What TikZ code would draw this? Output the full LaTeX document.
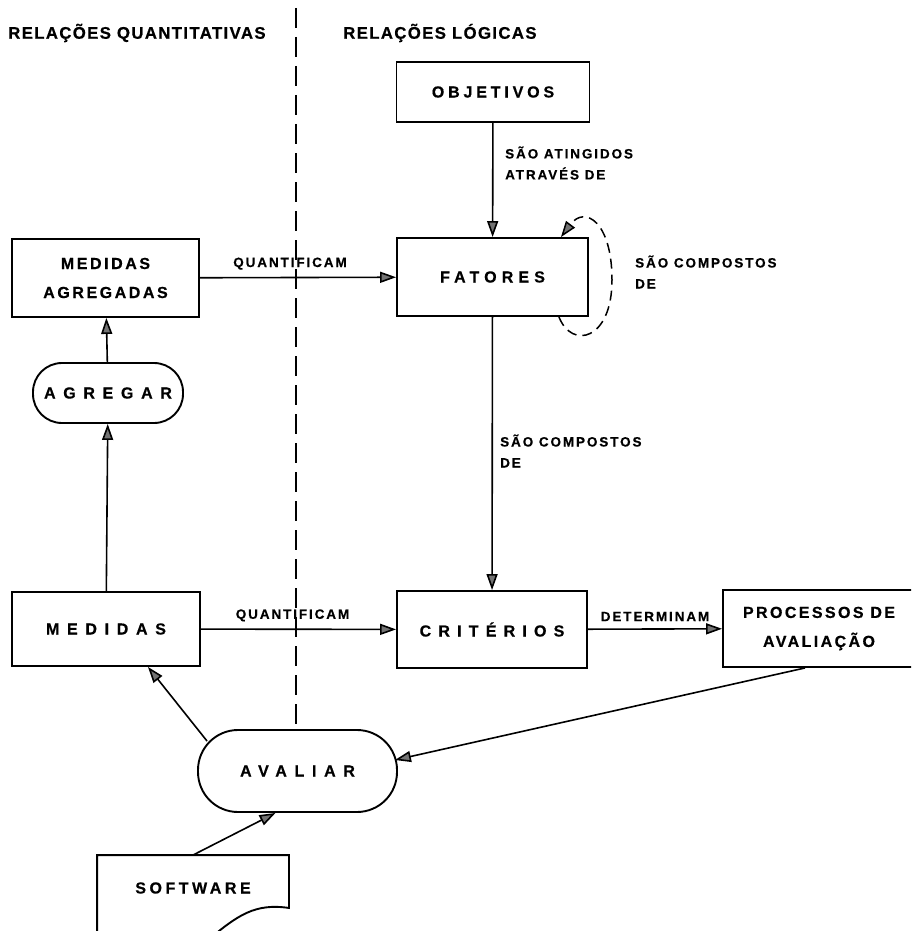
\documentclass[tikz,border=0pt]{standalone}
\usepackage{fontspec}
\setmainfont{Liberation Sans}
\usetikzlibrary{arrows.meta}
\newcommand\bxbase{\fontsize{16}{29}\selectfont\bfseries}
\newcommand\lbbase{\fontsize{13.5}{21}\selectfont\bfseries}
\newcommand\hdbase{\fontsize{16.8}{20}\selectfont\bfseries}
\begin{document}
\begin{tikzpicture}[x=1pt,y=-1pt,
  box/.style={draw,line width=1.9pt,inner sep=0pt,align=center,
    font=\bxbase\addfontfeature{LetterSpace=#1,FakeBold=0.6}},
  box/.default=20,
  pill/.style={box=#1,rounded corners=29pt},
  lbl/.style={inner sep=0pt,align=left,font=\lbbase\addfontfeature{LetterSpace=14,FakeBold=0.5}},
  hdr/.style={inner sep=0pt,anchor=west,font=\hdbase\addfontfeature{LetterSpace=8,FakeBold=0.5}},
  tip/.style={-{Triangle[length=16pt,width=11pt,fill=black!55]}},
  conn/.style={line width=1.6pt,tip},
  divider/.style={line width=1.8pt,dash pattern=on 20pt off 9pt},
  loopline/.style={line width=1.5pt,dash pattern=on 10pt off 6pt,tip},
]
\useasboundingbox (0,0) rectangle (911,931);
\clip (0,0) rectangle (911,931);

% column headings
\node[hdr] (hq) at (8,33) {RELAÇÕES QUANTITATIVAS};
\node[hdr] (hl) at (343,33) {RELAÇÕES LÓGICAS};

% boxes
\node[box=24, minimum width=193pt, minimum height=60pt] (obj) at (493,92) {OBJETIVOS};
\node[box=32, minimum width=191pt, minimum height=78pt] (fat) at (492.5,277) {FATORES};
\node[box=16, minimum width=187pt, minimum height=78pt] (mag) at (105.5,278) {MEDIDAS\\AGREGADAS};
\node[pill=48, minimum width=150pt, minimum height=60pt] (agr) at (108,393) {AGREGAR};
\node[box=48, minimum width=188pt, minimum height=74pt] (med) at (106,629) {MEDIDAS};
\node[box=45, minimum width=190pt, minimum height=77pt] (cri) at (492,629.5) {CRITÉRIOS};
\node[box=15, minimum width=192pt, minimum height=77pt] (proc) at (819,628.5) {PROCESSOS DE\\AVALIAÇÃO};
\node[box=48, rounded corners=40pt, minimum width=199pt, minimum height=82pt] (av) at (297.5,771) {AVALIAR};

% document symbol
\node[box=22, draw=none, minimum width=190pt, minimum height=64pt] (sw) at (193,888) {SOFTWARE};
\draw[line width=1.9pt] ([yshift=-20pt]sw.south west) -- (sw.north west) -- (sw.north east)
  -- ([yshift=13pt]sw.south east) .. controls (255,903) and (238,915) .. (208,940);

% dividing line
\coordinate (divtop) at (296,8);
\draw[divider] (divtop) -- (divtop |- av.north);

% connectors
\draw[conn] (obj) -- (fat);
\draw[conn] (mag) -- node[lbl, above=7pt, xshift=-8pt] {QUANTIFICAM} (fat);
\draw[conn] (agr) -- (mag);
\draw[conn] (med) -- (agr);
\draw[conn] (fat) -- (cri);
\draw[conn] (med) -- node[lbl, above=7pt, xshift=-6pt] {QUANTIFICAM} (cri);
\draw[conn] (cri) -- node[lbl, above=7pt] {DETERMINAM} (proc);
\draw[conn] ([xshift=-14pt]proc.south) -- ([xshift=-3pt,yshift=11pt]av.east);
\draw[conn] ([xshift=10pt,yshift=-12pt]av.north west) -- ([xshift=42pt]med.south);
\draw[conn] (sw.north) -- ([xshift=-22pt]av.south);
\draw[loopline] ([xshift=-30pt]fat.south east) .. controls (572,350) and (612,340) .. (612,280)
  .. controls (612,222) and (585,205) .. ([xshift=-28pt]fat.north east);

% relation labels
\node[lbl, anchor=west] (l1) at (505,163) {SÃO ATINGIDOS\\ATRAVÉS DE};
\node[lbl, anchor=west] (l2) at (635,272) {SÃO COMPOSTOS\\DE};
\node[lbl, anchor=west] (l3) at (500,451) {SÃO COMPOSTOS\\DE};
\end{tikzpicture}
\end{document}
